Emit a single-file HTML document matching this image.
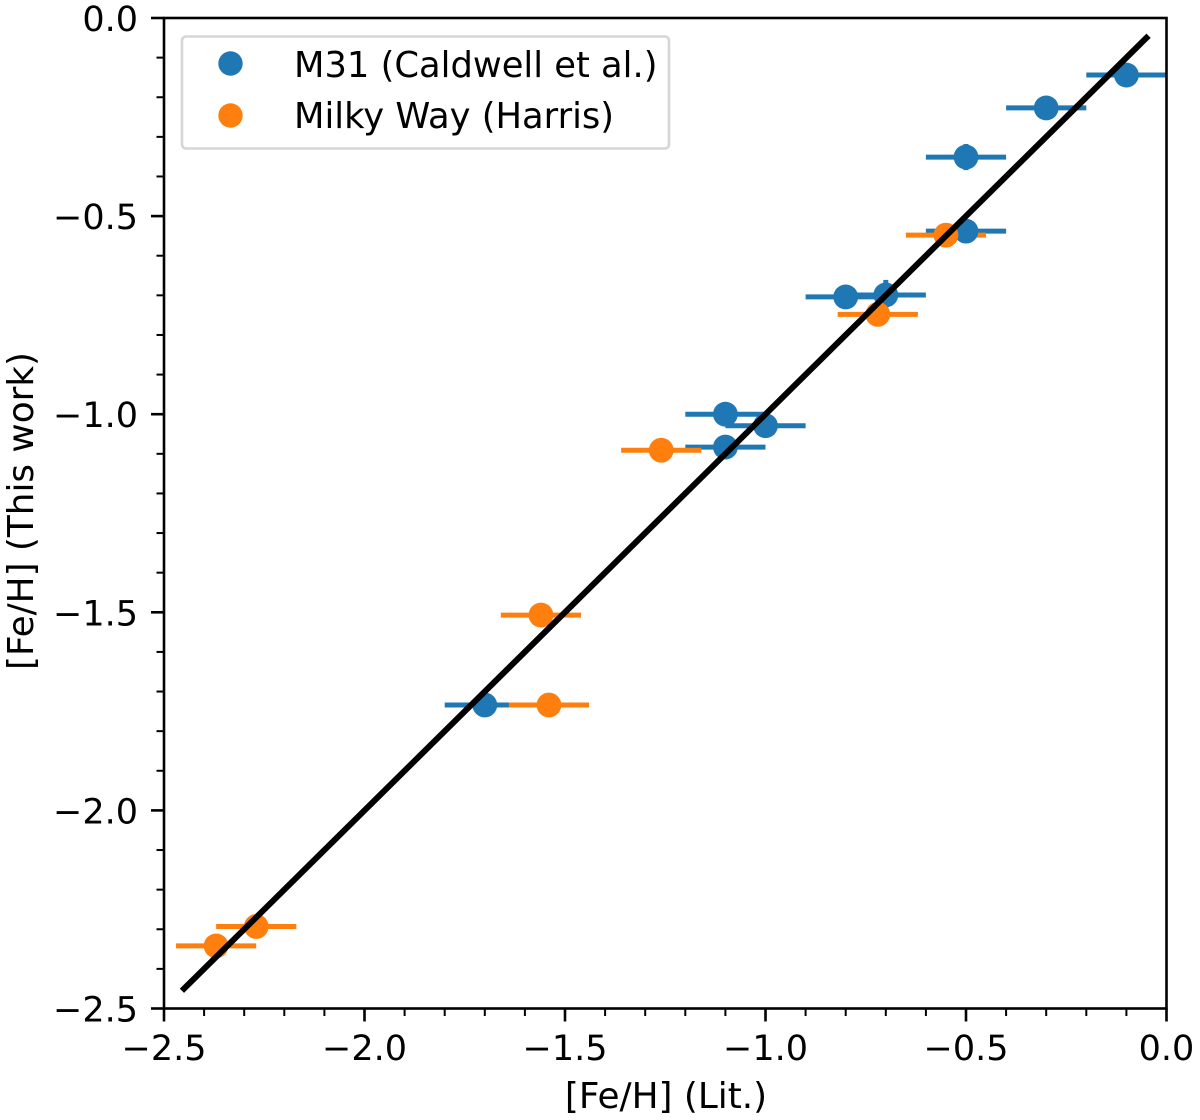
<!DOCTYPE html>
<html lang="en">
<head>
<meta charset="utf-8">
<title>[Fe/H] comparison chart</title>
<style>
html,body{margin:0;padding:0;background:#fff;}
svg{display:block;}
text{font-family:"DejaVu Sans","Liberation Sans",sans-serif;fill:#000;}
.tick-label{font-size:35px;}
.legend-label{font-size:35.3px;}
.axis-title{font-size:35.8px;}
</style>
</head>
<body>
<svg id="chart" xmlns="http://www.w3.org/2000/svg" width="1200" height="1120" viewBox="0 0 1200 1120">
  <rect x="0" y="0" width="1200" height="1120" fill="#fff"/>
  <defs>
    <clipPath id="plot-clip"><rect x="164" y="18" width="1002.5" height="990.5"/></clipPath>
  </defs>
  <g id="bars" clip-path="url(#plot-clip)"></g>
  <g id="points" clip-path="url(#plot-clip)"></g>
  <g id="fit"></g>
  <g id="ticks"></g>
  <g id="spines">
    <rect x="164" y="18" width="1002.5" height="990.5" fill="none" stroke="#000" stroke-width="2.6"/>
  </g>
  <text class="axis-title" x="666" y="1108" text-anchor="middle">[Fe/H] (Lit.)</text>
  <text class="axis-title" transform="translate(33,511) rotate(-90)" text-anchor="middle">[Fe/H] (This work)</text>
  <g>
    <rect x="182" y="36.5" width="487" height="112" rx="4" ry="4" fill="#fff" fill-opacity="0.8" stroke="#ccc" stroke-opacity="0.8" stroke-width="2.6"/>
    <g>
      <circle cx="230.5" cy="63.5" r="12.2" fill="#1f77b4"/>
      <text class="legend-label" x="294" y="77">M31 (Caldwell et al.)</text>
    </g>
    <g>
      <circle cx="230.5" cy="115.5" r="12.2" fill="#ff7f0e"/>
      <text class="legend-label" x="294" y="128">Milky Way (Harris)</text>
    </g>
  </g>
</svg>
<script>
var m31Lit = [-0.1, -0.3, -0.5, -0.5, -0.7, -0.8, -1.1, -1.0, -1.1, -1.7];
var m31Work = [-0.144, -0.227, -0.351, -0.538, -0.699, -0.704, -1.0, -1.029, -1.083, -1.734];
var m31ErrX = [0.1, 0.1, 0.1, 0.1, 0.1, 0.1, 0.1, 0.1, 0.1, 0.1];
var m31ErrY = [0, 0, 0.033, 0, 0.038, 0, 0, 0, 0, 0];
var mwLit = [-0.55, -0.72, -1.26, -1.56, -1.54, -2.27, -2.37];
var mwWork = [-0.548, -0.748, -1.091, -1.507, -1.734, -2.293, -2.342];
var mwErrX = [0.1, 0.1, 0.1, 0.1, 0.1, 0.1, 0.1];
var fitLine = [-2.45, -0.05];
var majorTicks = [-2.5, -2.0, -1.5, -1.0, -0.5, 0.0];
var majorTickLabels = ["\u22122.5", "\u22122.0", "\u22121.5", "\u22121.0", "\u22120.5", "0.0"];
var minorTicks = [-2.4, -2.3, -2.2, -2.1, -1.9, -1.8, -1.7, -1.6, -1.4, -1.3, -1.2, -1.1, -0.9, -0.8, -0.7, -0.6, -0.4, -0.3, -0.2, -0.1];

var NS = "http://www.w3.org/2000/svg";
var BLUE = "#1f77b4";
var ORANGE = "#ff7f0e";
function sx(v) { return 164 + (v + 2.5) * 401; }
function sy(v) { return 18 - v * 396.2; }
function make(tag, parent, attrs) {
  var el = document.createElementNS(NS, tag);
  for (var k in attrs) { el.setAttribute(k, attrs[k]); }
  parent.appendChild(el);
  return el;
}
var barsG = document.getElementById("bars");
var pointsG = document.getElementById("points");
var fitG = document.getElementById("fit");
var ticksG = document.getElementById("ticks");

function drawBars(xs, ys, errs, color, series) {
  xs.forEach(function (x, i) {
    var b = make("line", barsG, { x1: sx(x - errs[i]), x2: sx(x + errs[i]), y1: sy(ys[i]), y2: sy(ys[i]), stroke: color, "stroke-width": 5 });
    
    
  });
}
function drawVerticalBars(xs, ys, errs, color, series) {
  xs.forEach(function (x, i) {
    if (!errs[i]) { return; }
    var b = make("line", barsG, { x1: sx(x), x2: sx(x), y1: sy(ys[i] - errs[i]), y2: sy(ys[i] + errs[i]), stroke: color, "stroke-width": 5 });
    
    
  });
}
function drawPoints(xs, ys, color, series) {
  xs.forEach(function (x, i) {
    var c = make("circle", pointsG, { cx: sx(x), cy: sy(ys[i]), r: 12.4, fill: color });
    
    
  });
}
drawBars(m31Lit, m31Work, m31ErrX, BLUE, "m31");
drawVerticalBars(m31Lit, m31Work, m31ErrY, BLUE, "m31");
drawBars(mwLit, mwWork, mwErrX, ORANGE, "milky-way");
drawPoints(m31Lit, m31Work, BLUE, "m31");
drawPoints(mwLit, mwWork, ORANGE, "milky-way");

var fit = make("line", fitG, { x1: sx(fitLine[0]), y1: sy(fitLine[0]), x2: sx(fitLine[1]), y2: sy(fitLine[1]), stroke: "#000", "stroke-width": 6, "stroke-linecap": "square" });



majorTicks.forEach(function (v, i) {
  var tx = make("line", ticksG, { x1: sx(v), x2: sx(v), y1: 1008.5, y2: 1021.5, stroke: "#000", "stroke-width": 2.6 });
  
  
  var ty = make("line", ticksG, { x1: 151, x2: 164, y1: sy(v), y2: sy(v), stroke: "#000", "stroke-width": 2.6 });
  
  
  var lx = make("text", ticksG, { x: sx(v), y: 1060, "text-anchor": "middle", "class": "tick-label" });
  lx.textContent = majorTickLabels[i];
  
  
  var ly = make("text", ticksG, { x: 138, y: sy(v) + 13, "text-anchor": "end", "class": "tick-label" });
  ly.textContent = majorTickLabels[i];
  
  
});
minorTicks.forEach(function (v) {
  var tx = make("line", ticksG, { x1: sx(v), x2: sx(v), y1: 1008.5, y2: 1016, stroke: "#000", "stroke-width": 2 });
  
  
  var ty = make("line", ticksG, { x1: 156.5, x2: 164, y1: sy(v), y2: sy(v), stroke: "#000", "stroke-width": 2 });
  
  
});
</script>
</body>
</html>
